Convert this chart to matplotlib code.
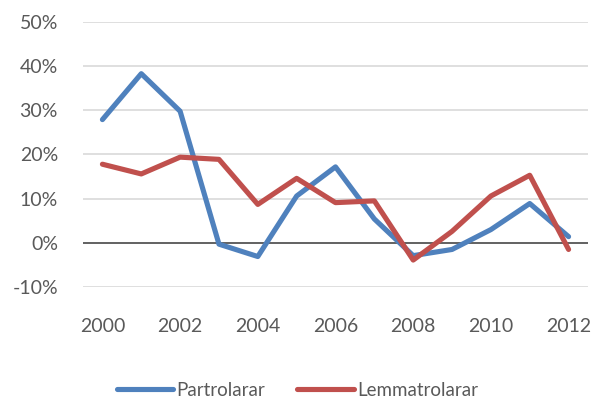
import matplotlib
matplotlib.use("Agg")
import matplotlib.pyplot as plt
from matplotlib.ticker import FuncFormatter

years = list(range(2000, 2013))
partrolarar = [27.9, 38.3, 29.8, -0.3, -3.1, 10.6, 17.2, 5.4, -2.9, -1.5, 3.0, 8.9, 1.4]
lemmatrolarar = [17.8, 15.6, 19.4, 18.9, 8.7, 14.6, 9.1, 9.5, -3.9, 2.6, 10.6, 15.3, -1.5]
tick_years = [2000, 2002, 2004, 2006, 2008, 2010, 2012]
y_ticks = [-10, 0, 10, 20, 30, 40, 50]

plt.rcParams['font.family'] = ['Lato', 'DejaVu Sans']

fig = plt.figure(figsize=(5.95, 4.03), dpi=100)
ax = fig.add_axes([83/595, 1-287/403, (588-83)/595, (287-22)/403])

x = list(range(len(years)))
ax.plot(x, partrolarar, color='#4F81BD', lw=3.7, solid_capstyle='round', solid_joinstyle='round', label='Partrolarar')
ax.plot(x, lemmatrolarar, color='#C0504D', lw=3.7, solid_capstyle='round', solid_joinstyle='round', label='Lemmatrolarar')

ax.set_xlim(-0.5, len(years) - 0.5)
ax.set_ylim(-10, 50)
ax.set_yticks(y_ticks)
ax.yaxis.set_major_formatter(FuncFormatter(lambda v, p: f"{int(v)}%"))
ax.set_xticks([years.index(y) for y in tick_years])
ax.set_xticklabels([str(y) for y in tick_years])

for s in ax.spines.values():
    s.set_visible(False)
ax.grid(axis='y', color='#D9D9D9', lw=1.2, zorder=0)
ax.set_axisbelow(True)
ax.axhline(0, color='#404040', lw=1.1, zorder=1.5)
ax.tick_params(length=0, labelsize=14, labelcolor='#595959')
ax.tick_params(axis='y', pad=18)
ax.tick_params(axis='x', pad=22)

leg = fig.legend(loc='center', bbox_to_anchor=(0.5, 1-390/403), ncol=2, frameon=False,
                 fontsize=13.5, handlelength=3.0, handletextpad=0.2, columnspacing=1.7)
for t in leg.get_texts():
    t.set_color('#595959')

fig.savefig('out.png', dpi=100)
